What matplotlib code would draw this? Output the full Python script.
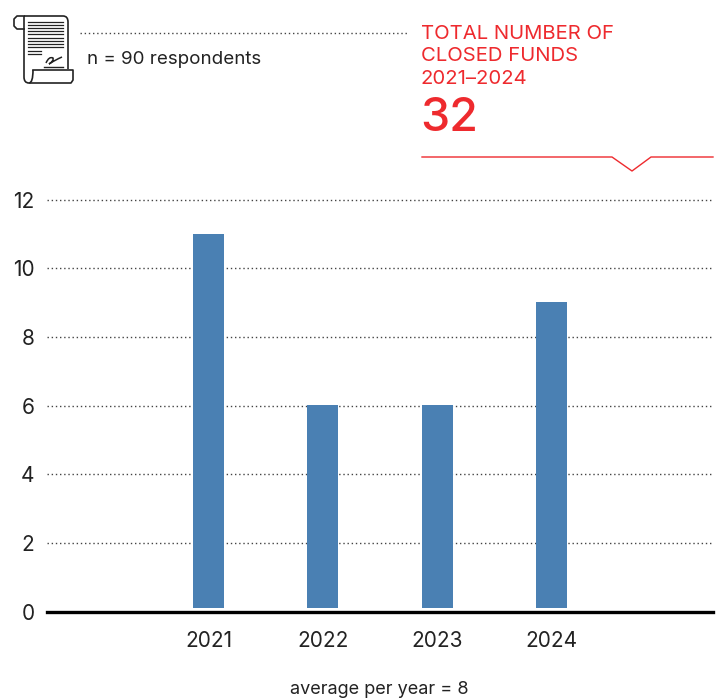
import matplotlib
matplotlib.use("Agg")
import matplotlib.pyplot as plt
from matplotlib.patches import PathPatch
from matplotlib.path import Path

years = ["2021", "2022", "2023", "2024"]
closed_funds = [11, 6, 6, 9]
y_ticks = [0, 2, 4, 6, 8, 10, 12]

W, H = 721, 699
BLUE = "#4a80b3"
RED = "#ee2a2e"
INK = "#222222"

plt.rcParams["font.family"] = ["Inter", "DejaVu Sans"]

fig = plt.figure(figsize=(W / 100, H / 100), dpi=100)

# main axes placed by pixel position
ax = fig.add_axes([47 / W, 1 - 611.5 / H, (713 - 47) / W, (611.5 - 199.5) / H])
ax.set_xlim(-1.413, 4.414)
ax.set_ylim(0, 12)
ax.bar(range(len(years)), [v - 0.1 for v in closed_funds], bottom=0.1, width=0.272,
       color=BLUE, zorder=3)
ax.yaxis.grid(True, linestyle=(0, (1, 2)), color="#444444", linewidth=1.0, zorder=1, clip_on=False)
ax.set_axisbelow(True)
for side in ("top", "right", "left"):
    ax.spines[side].set_visible(False)
ax.spines["bottom"].set_linewidth(2.4)
ax.spines["bottom"].set_color("black")
ax.spines["bottom"].set_zorder(4)
ax.set_yticks(y_ticks)
ax.set_xticks(range(len(years)), years)
ax.tick_params(axis="both", length=0, labelsize=15, labelcolor=INK)
ax.tick_params(axis="x", pad=14)
ax.tick_params(axis="y", pad=9)

# overlay in pixel coordinates for annotation and icon
ov = fig.add_axes([0, 0, 1, 1], facecolor="none")
ov.set_xlim(0, W)
ov.set_ylim(H, 0)
ov.axis("off")

ov.text(379.5, 690, "average per year = 8", ha="center", va="center", fontsize=13, color=INK)
ov.text(87, 59, "n = 90 respondents", ha="left", va="center", fontsize=13.5, color=INK)
ov.plot([80, 408], [33, 33], linestyle=(0, (1, 2)), color="#444444", linewidth=1.0)

# red callout
for y, line in zip((34, 56, 79), ("TOTAL NUMBER OF", "CLOSED FUNDS", "2021–2024")):
    ov.text(421, y, line, ha="left", va="center", fontsize=14.6, color=RED)
ov.text(420, 119, "32", ha="left", va="center", fontsize=33.5, color=RED, fontweight="medium")
ov.plot([422, 612, 632, 651, 713], [157, 157, 171, 157, 157], color=RED, linewidth=1.0)

# scroll icon
scroll = Path(
    [(24, 16), (63, 16), (68, 16), (68, 22), (68, 69), (33, 70), (33, 83), (29, 83), (24, 83), (24, 77), (24, 16)],
    [Path.MOVETO, Path.LINETO, Path.CURVE3, Path.CURVE3, Path.LINETO, Path.MOVETO, Path.CURVE3, Path.CURVE3,
     Path.CURVE3, Path.CURVE3, Path.LINETO],
)
ov.add_patch(PathPatch(scroll, fill=False, edgecolor=INK, linewidth=1.2))
ov.plot([24, 17, 14, 14, 17, 24], [16, 16, 19, 26, 29, 29], color=INK, linewidth=1.2)
ov.plot([33, 73, 73, 71, 30], [70, 70, 80, 83, 83], color=INK, linewidth=1.2)
for y in (22, 25, 28, 31, 34, 38, 41, 44, 47):
    ov.plot([28, 63], [y, y], color=INK, linewidth=0.9)
for y in (51, 54):
    ov.plot([28, 41], [y, y], color=INK, linewidth=0.9)
ov.plot([44, 63], [66.5, 66.5], color=INK, linewidth=1.0)
sig = Path(
    [(46, 63), (49, 56), (53, 58), (54, 61), (49, 64), (55, 60), (62, 57)],
    [Path.MOVETO, Path.CURVE3, Path.CURVE3, Path.CURVE3, Path.CURVE3, Path.CURVE3, Path.CURVE3],
)
ov.add_patch(PathPatch(sig, fill=False, edgecolor=INK, linewidth=1.1))

fig.savefig("out.png", dpi=100)
